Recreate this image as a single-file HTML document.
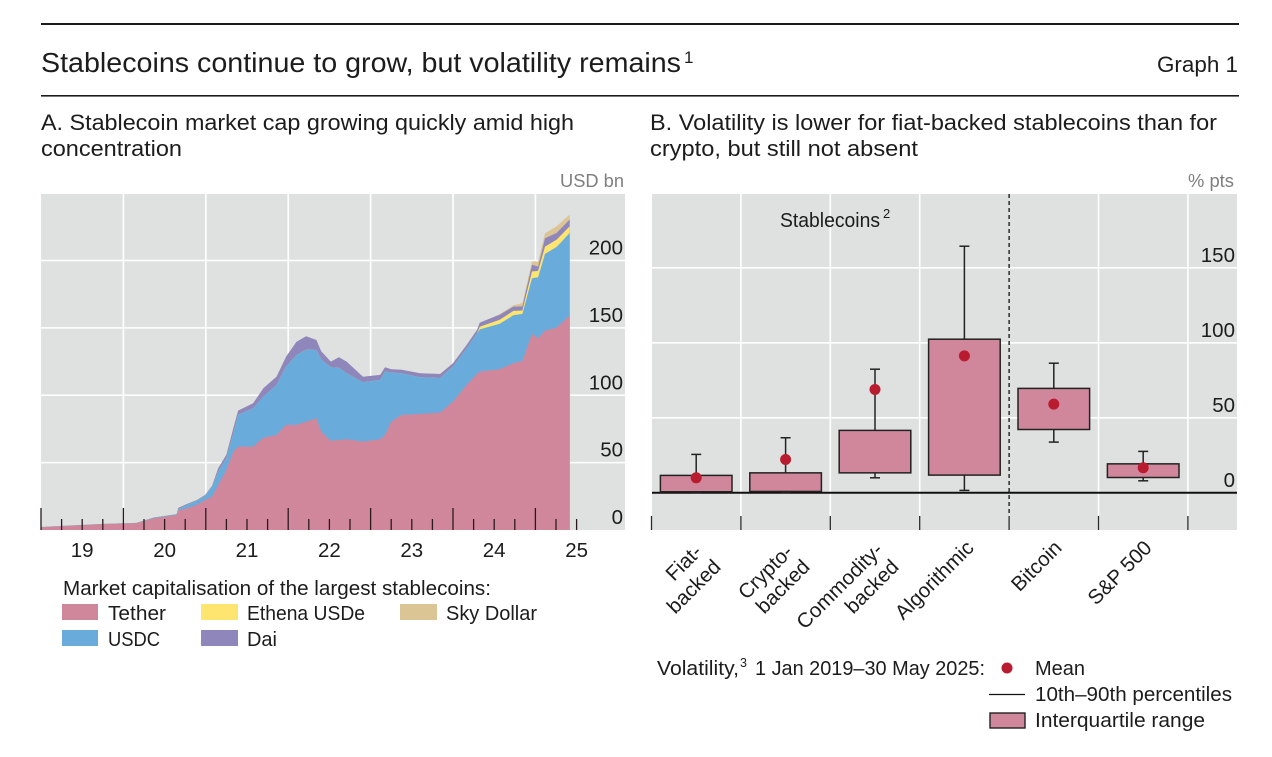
<!DOCTYPE html>
<html>
<head>
<meta charset="utf-8">
<title>Stablecoins continue to grow, but volatility remains</title>
<style>
html,body{margin:0;padding:0;background:#fff;width:1272px;height:757px;overflow:hidden}
svg{display:block}
text{font-family:"Liberation Sans",sans-serif;fill:#1c1c1c}
</style>
</head>
<body>
<svg id="root" width="1272" height="757" viewBox="0 0 1272 757" xmlns="http://www.w3.org/2000/svg">
  <rect x="0" y="0" width="1272" height="757" fill="#fff"/>
  <rect x="41" y="23" width="1198" height="2" fill="#1a1a1a"/>
  <rect x="41" y="95" width="1198" height="1.6" fill="#1a1a1a"/>
  <text x="41" y="72" font-size="27.5" textLength="640" lengthAdjust="spacingAndGlyphs">Stablecoins continue to grow, but volatility remains</text>
  <text x="684" y="63" font-size="17">1</text>
  <text x="1157" y="72" font-size="22.5" textLength="81" lengthAdjust="spacingAndGlyphs">Graph 1</text>

  <text x="41" y="130" font-size="22.5" textLength="533" lengthAdjust="spacingAndGlyphs">A. Stablecoin market cap growing quickly amid high</text>
  <text x="41" y="156" font-size="22.5" textLength="141" lengthAdjust="spacingAndGlyphs">concentration</text>
  <text x="650" y="130" font-size="22.5" textLength="567" lengthAdjust="spacingAndGlyphs">B. Volatility is lower for fiat-backed stablecoins than for</text>
  <text x="650" y="156" font-size="22.5" textLength="268" lengthAdjust="spacingAndGlyphs">crypto, but still not absent</text>

  <text x="560" y="187" font-size="18.5" style="fill:#7f7f7f" textLength="64" lengthAdjust="spacingAndGlyphs">USD bn</text>
  <text x="1188" y="187" font-size="18.5" style="fill:#7f7f7f" textLength="46" lengthAdjust="spacingAndGlyphs">% pts</text>

  <rect x="41" y="194" width="584" height="336" fill="#dfe1e1"/>
  <g id="panelA"></g>

  <rect x="652" y="194" width="585" height="336" fill="#dfe1e1"/>
  <g id="panelB"></g>

  <text x="780" y="227" font-size="20" textLength="100" lengthAdjust="spacingAndGlyphs">Stablecoins</text>
  <text x="883" y="218" font-size="13">2</text>

  <g>
    <text x="63" y="595" font-size="20.5" textLength="428" lengthAdjust="spacingAndGlyphs">Market capitalisation of the largest stablecoins:</text>
    <rect x="62" y="604" width="36" height="16" fill="#d0879c"/>
    <text x="108" y="620" font-size="20.5" textLength="58" lengthAdjust="spacingAndGlyphs">Tether</text>
    <rect x="62" y="630" width="36" height="16" fill="#69acdb"/>
    <text x="108" y="646" font-size="20.5" textLength="52" lengthAdjust="spacingAndGlyphs">USDC</text>
    <rect x="201" y="604" width="37" height="16" fill="#fde56f"/>
    <text x="247" y="620" font-size="20.5" textLength="118" lengthAdjust="spacingAndGlyphs">Ethena USDe</text>
    <rect x="201" y="630" width="37" height="16" fill="#8f87bc"/>
    <text x="247" y="646" font-size="20.5" textLength="30" lengthAdjust="spacingAndGlyphs">Dai</text>
    <rect x="400" y="604" width="37" height="16" fill="#dcc594"/>
    <text x="446" y="620" font-size="20.5" textLength="91" lengthAdjust="spacingAndGlyphs">Sky Dollar</text>
  </g>

  <g>
    <text x="657" y="675" font-size="20" textLength="82" lengthAdjust="spacingAndGlyphs">Volatility,</text>
    <text x="740" y="667" font-size="12.5">3</text>
    <text x="755" y="675" font-size="20" textLength="230" lengthAdjust="spacingAndGlyphs">1 Jan 2019–30 May 2025:</text>
    <circle cx="1007" cy="668" r="5.5" fill="#b91c2e"/>
    <text x="1035" y="675" font-size="20" textLength="50" lengthAdjust="spacingAndGlyphs">Mean</text>
    <line x1="989" y1="694.5" x2="1025" y2="694.5" stroke="#111" stroke-width="1.2"/>
    <text x="1035" y="701" font-size="20" textLength="197" lengthAdjust="spacingAndGlyphs">10th–90th percentiles</text>
    <rect x="990" y="713" width="35" height="15" fill="#d0879c" stroke="#222" stroke-width="1.4"/>
    <text x="1035" y="727" font-size="20" textLength="170" lengthAdjust="spacingAndGlyphs">Interquartile range</text>
  </g>
</svg>
<script>
// Panel A data: months since Jan 2019, USD bn
var months = [0,5.7,9.6,13.9,16.4,19.75,20,21.2,22.7,23.9,24.9,25.8,27,28,28.7,30.9,32.4,34.3,35.7,37.2,38.6,40.1,40.8,42.2,43.4,44.5,46.9,49.4,50.1,51,52.5,55.2,58.1,60,62,63.5,63.9,66.8,68.8,70.1,71.5,72.4,73.4,75.1,77];
var tether = [2,3.5,4.5,5,8.7,11.1,14.4,16,18.6,22.3,24.8,33.4,44.6,58.2,61.9,61.9,68.6,70.5,78,78,80.4,82.9,73,66.3,66.8,67.3,65.6,67.3,70.5,80.4,85.4,86.1,87.1,95.3,107.7,115.8,117.6,119.3,123.8,125.5,145.5,142.3,148,150.2,159.2];
var usdc = [0.2,0.2,0.2,0.2,0.5,0.5,1,2.5,3.2,3,7.4,9.9,8.7,13.6,23.5,28.5,30.5,37.1,43.3,51.7,53.5,50.7,53.5,54.5,53.5,49,44,44.1,47.1,36.4,31,27.2,25.7,26,27.2,30.2,31.3,33.7,35.6,34.9,41.3,45.3,56.9,59.9,61.2];
var ethena = [0,0,0,0,0,0,0,0,0,0,0,0,0,0,0,0,0,0,0,0,0,0,0,0,0,0,0,0,0,0,0,0,0,0,0,0,2,3,3.2,2.5,5,4.7,5.4,5.4,5];
var dai = [0,0,0,0.1,0.1,0.2,1,0.7,0.5,0.7,0.5,2.5,2.5,3.7,3.2,3.7,6.2,6.2,7.4,9.9,9.9,7.4,6.2,4.2,7.9,8.7,4.2,3.7,3.2,2.5,2.5,3,3,2.5,2.5,2.5,3,3.7,3.2,3,5,3.2,6.2,5,5];
var sky = [0,0,0,0,0,0,0,0,0,0,0,0,0,0,0,0,0,0,0,0,0,0,0,0,0,0,0,0,0,0,0,0,0,0,0,0,0,0.5,1,2.5,2.5,3.7,3.7,5,3.7];
var yearLabels = ['19','20','21','22','23','24','25'];
var panelAValueTicks = [0,50,100,150,200];

// Panel B data: volatility, % pts
var boxCategories = ['Fiat-backed','Crypto-backed','Commodity-backed','Algorithmic','Bitcoin','S&P 500'];
var p90 = [25.6,36.7,82.4,164.4,86.4,27.6];
var q3 = [11.6,13.3,41.6,102.4,69.6,19.3];
var q1 = [0.7,0.9,13.3,11.8,42.2,10.2];
var p10 = [0.2,0.2,10,1.6,33.8,8];
var means = [10,22.2,68.9,91.3,59.1,16.7];
var panelBValueTicks = [0,50,100,150];

var NS = 'http://www.w3.org/2000/svg';
function mk(tag, parent, props) {
  var el = document.createElementNS(NS, tag);
  for (var k in props) el.setAttribute(k, props[k]);
  parent.appendChild(el);
  return el;
}
var panelA = document.getElementById('panelA');
var panelB = document.getElementById('panelB');

// Panel A axes
function xA(m) { return 41 + m * 82.4 / 12; }
function yA(v) { return 530 - v * 1.3475; }

panelAValueTicks.forEach(function (v) {
  if (v > 0) {
    var g = mk('line', panelA, {x1: 41, x2: 625, y1: yA(v), y2: yA(v), stroke: '#fff', 'stroke-width': 1.6});
    
    
  }
  var t = mk('text', panelA, {x: 623, y: yA(v) - 6, 'font-size': 20.5, 'text-anchor': 'end'});
  t.textContent = v;
  
  
});
yearLabels.forEach(function (lab, i) {
  if (i < 6) {
    var g = mk('line', panelA, {x1: xA((i + 1) * 12), x2: xA((i + 1) * 12), y1: 194, y2: 530, stroke: '#fff', 'stroke-width': 1.6});
    
    
  }
  var t = mk('text', panelA, {x: xA(i * 12 + 6), y: 557, 'font-size': 20.5, 'text-anchor': 'middle'});
  t.textContent = lab;
  
  
});

// Stacked areas: cumulative tops, painted top layer first down to the baseline
var stackSeries = [
  {key: 'tether', values: tether, color: '#d0879c'},
  {key: 'usdc', values: usdc, color: '#69acdb'},
  {key: 'ethena', values: ethena, color: '#fde56f'},
  {key: 'dai', values: dai, color: '#8f87bc'},
  {key: 'sky', values: sky, color: '#dcc594'}
];
var running = months.map(function () { return 0; });
stackSeries.forEach(function (s) {
  running = running.map(function (b, i) { return b + s.values[i]; });
  s.top = running;
});
stackSeries.slice().reverse().forEach(function (s) {
  var upper = months.map(function (m, i) { return xA(m).toFixed(1) + ',' + yA(s.top[i]).toFixed(1); });
  var closing = [xA(months[months.length - 1]).toFixed(1) + ',' + yA(0), xA(months[0]).toFixed(1) + ',' + yA(0)];
  var p = mk('polygon', panelA, {points: upper.concat(closing).join(' '), fill: s.color});
  
  
});

// Panel A time ticks (quarterly)
for (var q = 0; q <= 26; q++) {
  var major = q % 4 === 0;
  var tick = mk('line', panelA, {x1: xA(q * 3), x2: xA(q * 3), y1: major ? 508 : 519, y2: 530, stroke: '#2a1a20', 'stroke-width': 1.3});
  
  
}

// Panel B axes
function xB(i) { return 651.5 + i * 89.4; }
function yB(v) { return 492.8 - v * 1.5; }

panelBValueTicks.forEach(function (v) {
  if (v > 0) {
    var g = mk('line', panelB, {x1: 652, x2: 1237, y1: yB(v), y2: yB(v), stroke: '#fff', 'stroke-width': 1.6});
    
    
  }
  var t = mk('text', panelB, {x: 1235, y: yB(v) - 6, 'font-size': 20.5, 'text-anchor': 'end'});
  t.textContent = v;
  
  
});
for (var c = 1; c <= 6; c++) {
  if (c === 4) continue;
  var vg = mk('line', panelB, {x1: xB(c), x2: xB(c), y1: 194, y2: 530, stroke: '#fff', 'stroke-width': 1.6});
  
  
}
var zero = mk('line', panelB, {x1: 652, x2: 1237, y1: yB(0), y2: yB(0), stroke: '#111', 'stroke-width': 2});


var divider = mk('line', panelB, {x1: xB(4), x2: xB(4), y1: 194, y2: 516, stroke: '#111', 'stroke-width': 1.3, 'stroke-dasharray': '4 3'});


for (var d = 0; d <= 6; d++) {
  var bt = mk('line', panelB, {x1: xB(d), x2: xB(d), y1: 516, y2: 530, stroke: '#2a2a2a', 'stroke-width': 1.3});
  
  
}

// Box plots
boxCategories.forEach(function (name, i) {
  var cx = xB(i + 0.5);
  var whisker = mk('line', panelB, {x1: cx, x2: cx, y1: yB(p90[i]), y2: yB(p10[i]), stroke: '#222', 'stroke-width': 1.5});
  
  
  var capTop = mk('line', panelB, {x1: cx - 5, x2: cx + 5, y1: yB(p90[i]), y2: yB(p90[i]), stroke: '#222', 'stroke-width': 1.5});
  
  
  var capBottom = mk('line', panelB, {x1: cx - 5, x2: cx + 5, y1: yB(p10[i]), y2: yB(p10[i]), stroke: '#222', 'stroke-width': 1.5});
  
  
  var box = mk('rect', panelB, {x: cx - 35.8, width: 71.6, y: yB(q3[i]), height: yB(q1[i]) - yB(q3[i]), fill: '#d0879c', stroke: '#222', 'stroke-width': 1.5});
  
  
  var dot = mk('circle', panelB, {cx: cx, cy: yB(means[i]), r: 5.5, fill: '#b91c2e'});
  
  
});
</script>
<svg width="1272" height="757" viewBox="0 0 1272 757" xmlns="http://www.w3.org/2000/svg" style="position:absolute;left:0;top:0;pointer-events:none">
  <text text-anchor="end" font-size="20.5" transform="translate(703 553) rotate(-45)">Fiat-</text>
  <text text-anchor="end" font-size="20.5" transform="translate(722 568) rotate(-45)">backed</text>
  <text text-anchor="end" font-size="20.5" transform="translate(794 553) rotate(-45)">Crypto-</text>
  <text text-anchor="end" font-size="20.5" transform="translate(811 568) rotate(-45)">backed</text>
  <text text-anchor="end" font-size="20.5" transform="translate(884 551) rotate(-45)" textLength="112" lengthAdjust="spacingAndGlyphs">Commodity-</text>
  <text text-anchor="end" font-size="20.5" transform="translate(900 568) rotate(-45)">backed</text>
  <text text-anchor="end" font-size="20.5" transform="translate(975 549) rotate(-45)">Algorithmic</text>
  <text text-anchor="end" font-size="20.5" transform="translate(1063 549) rotate(-45)">Bitcoin</text>
  <text text-anchor="end" font-size="20.5" transform="translate(1153 549) rotate(-45)">S&amp;P 500</text>
</svg>
</body>
</html>
